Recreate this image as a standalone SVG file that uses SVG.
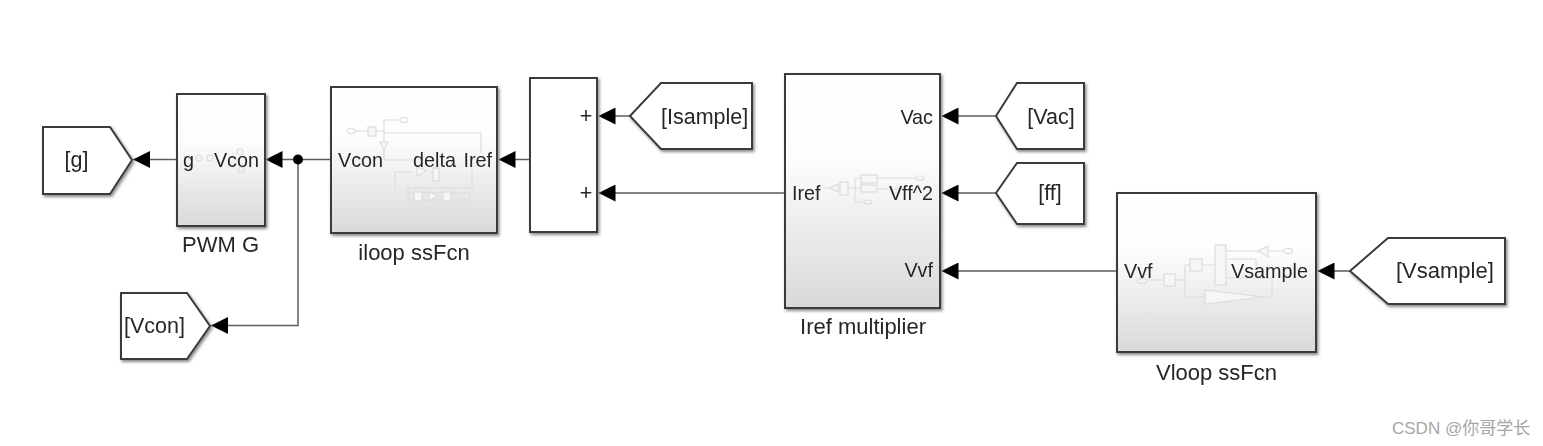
<svg xmlns="http://www.w3.org/2000/svg" width="1543" height="446" viewBox="0 0 1543 446">
<style>
text{font-family:"Liberation Sans",Arial,sans-serif;font-size:21.500px;fill:#262626}
.p{font-size:19.800px}
.n{font-size:22px}
.m{text-anchor:middle}.e{text-anchor:end}
.b{stroke:#3a3a3a;stroke-width:2;filter:url(#sh)}
.g{fill:url(#gr)}.w{fill:#fff}
.c{fill:none;stroke:#5c5c5c;stroke-width:1.500}
.a{marker-end:url(#ah)}
.h{fill:none;stroke:#dcdcdc;stroke-width:1.200}
.hf{fill:#f6f6f6;stroke:#dcdcdc;stroke-width:1.200}
</style>
<defs>
<linearGradient id="gr" x1="0" y1="0" x2="0" y2="1"><stop offset="0" stop-color="#fff"/><stop offset="0.36" stop-color="#fdfdfd"/><stop offset="1" stop-color="#d9d9d9"/></linearGradient>
<filter id="sh" x="-10%" y="-10%" width="120%" height="120%"><feDropShadow dx="1.500" dy="2" stdDeviation="1.500" flood-color="#8a8a8a"/></filter>
<filter id="soft" filterUnits="userSpaceOnUse" x="0" y="0" width="1543" height="446"><feGaussianBlur stdDeviation="0.450"/></filter>
<marker id="ah" markerUnits="userSpaceOnUse" markerWidth="17" markerHeight="17" refX="17" refY="8.500" orient="auto"><path d="M0,0L17,8.500L0,17Z" fill="#000"/></marker>
</defs>
<rect width="1543" height="446" fill="#fff"/>
<g filter="url(#soft)">
<g id="connectors">
<path class="c a" d="M177,159.500H133"/>
<path class="c a" d="M331,159.500H265.500"/>
<path class="c a" d="M298,159.500V325.500H211"/>
<path class="c a" d="M530,159.500H498.500"/>
<path class="c a" d="M630,116H598.500"/>
<path class="c a" d="M785,193H598.500"/>
<path class="c a" d="M996,116H941.500"/>
<path class="c a" d="M996,193H941.500"/>
<path class="c a" d="M1117,271H941.500"/>
<path class="c a" d="M1350,271H1317.500"/>
<circle cx="298" cy="159.500" r="5" fill="#000"/>
</g>
<g id="goto-g"><path class="b w" d="M43,127H110L132,160L110,194H43Z"/><text class="m" x="76.500" y="167">[g]</text></g>
<g id="pwm-g"><rect class="b g" x="177" y="94" width="88" height="132"/>
<circle class="h" cx="199" cy="158" r="3"/><circle class="h" cx="210" cy="158" r="3"/><circle class="h" cx="240" cy="152" r="3"/><circle class="h" cx="241" cy="170" r="3"/>
<text class="p" x="183" y="167">g</text><text class="p e" x="259" y="167">Vcon</text><text class="n m" x="220.500" y="252">PWM G</text></g>
<g id="iloop"><rect class="b g" x="331" y="87" width="166" height="146"/>
<path class="h" d="M355,131H367M375,131H384V120H399M384,131V160H413M384,133H481V153M472,170V188H408V200H470V193H408M412,172H395V188M430,172H437"/>
<ellipse class="h" cx="351" cy="131" rx="4" ry="2.500"/><ellipse class="h" cx="404" cy="120" rx="4" ry="2.500"/>
<rect class="hf" x="368" y="127" width="8" height="9"/><path class="hf" d="M380,142H388L384,150Z"/>
<path class="hf" d="M417,167V176L427,171Z"/><rect class="hf" x="433" y="168" width="6" height="13"/>
<rect class="hf" x="414" y="192" width="8" height="9"/><path class="hf" d="M429,192V201L438,196Z"/><rect class="hf" x="443" y="192" width="8" height="9"/>
<text class="p" x="338" y="167">Vcon</text><text class="p" x="413" y="167">delta</text><text class="p e" x="492" y="167">Iref</text><text class="n m" x="414" y="260">iloop ssFcn</text></g>
<g id="goto-vcon"><path class="b w" d="M121,293H187L210,326L187,359H121Z"/><text x="124" y="333">[Vcon]</text></g>
<g id="sum"><rect class="b w" x="530" y="78" width="67" height="154"/><text class="m" x="586" y="123">+</text><text class="m" x="586" y="200">+</text></g>
<g id="from-isample"><path class="b w" d="M630,116L661,83H752V149H661Z"/><text x="661" y="124">[Isample]</text></g>
<g id="iref-multiplier"><rect class="b g" x="785" y="74" width="155" height="234"/>
<path class="h" d="M823,188H830M838,188H840M848,188H855M855,178V202H864M855,178H861M855,188H861M877,178H916M877,189H905"/>
<path class="hf" d="M830,188L838,184V192Z"/><rect class="hf" x="840" y="182" width="8" height="13"/><rect class="hf" x="861" y="175" width="16" height="8"/><rect class="hf" x="861" y="185" width="16" height="7"/>
<ellipse class="h" cx="920" cy="178" rx="4" ry="2"/><ellipse class="h" cx="868" cy="202" rx="4" ry="2"/>
<text class="p e" x="933" y="124">Vac</text><text class="p" x="792" y="200">Iref</text><text class="p e" x="933" y="200">Vff^2</text><text class="p e" x="933" y="277">Vvf</text><text class="n m" x="863" y="334">Iref multiplier</text></g>
<g id="from-vac"><path class="b w" d="M996,116L1017,83H1084V149H1017Z"/><text class="m" x="1051" y="124">[Vac]</text></g>
<g id="from-ff"><path class="b w" d="M996,193L1017,163H1084V224H1017Z"/><text class="m" x="1050" y="200">[ff]</text></g>
<g id="vloop"><rect class="b g" x="1117" y="193" width="199" height="159"/>
<path class="h" d="M1146,280H1164M1175,280H1185M1185,265V297H1205M1185,265H1190M1202,265H1215M1226,251H1258M1268,251H1283M1260,297H1272V278H1226M1226,259H1256V270"/>
<ellipse class="h" cx="1142" cy="281" rx="5" ry="2.500"/><ellipse class="h" cx="1288" cy="251" rx="4.500" ry="2.500"/>
<rect class="hf" x="1164" y="274" width="11" height="12"/><rect class="hf" x="1190" y="259" width="12" height="12"/><rect class="hf" x="1215" y="245" width="11" height="40"/>
<path class="hf" d="M1258,251L1268,246V257Z"/><path class="hf" d="M1205,290V304L1262,297Z"/>
<text class="p" x="1124" y="278">Vvf</text><text class="p e" x="1308" y="278">Vsample</text><text class="n m" x="1216.500" y="380">Vloop ssFcn</text></g>
<g id="from-vsample"><path class="b w" d="M1350,271L1388,238H1505V304H1388Z"/><text class="n" x="1396" y="278">[Vsample]</text></g>
</g>
<text x="1392" y="434" style="font-family:'Liberation Sans','Noto Sans CJK SC',sans-serif;font-size:17px;fill:#a6a6a6">CSDN @你哥学长</text>
</svg>
